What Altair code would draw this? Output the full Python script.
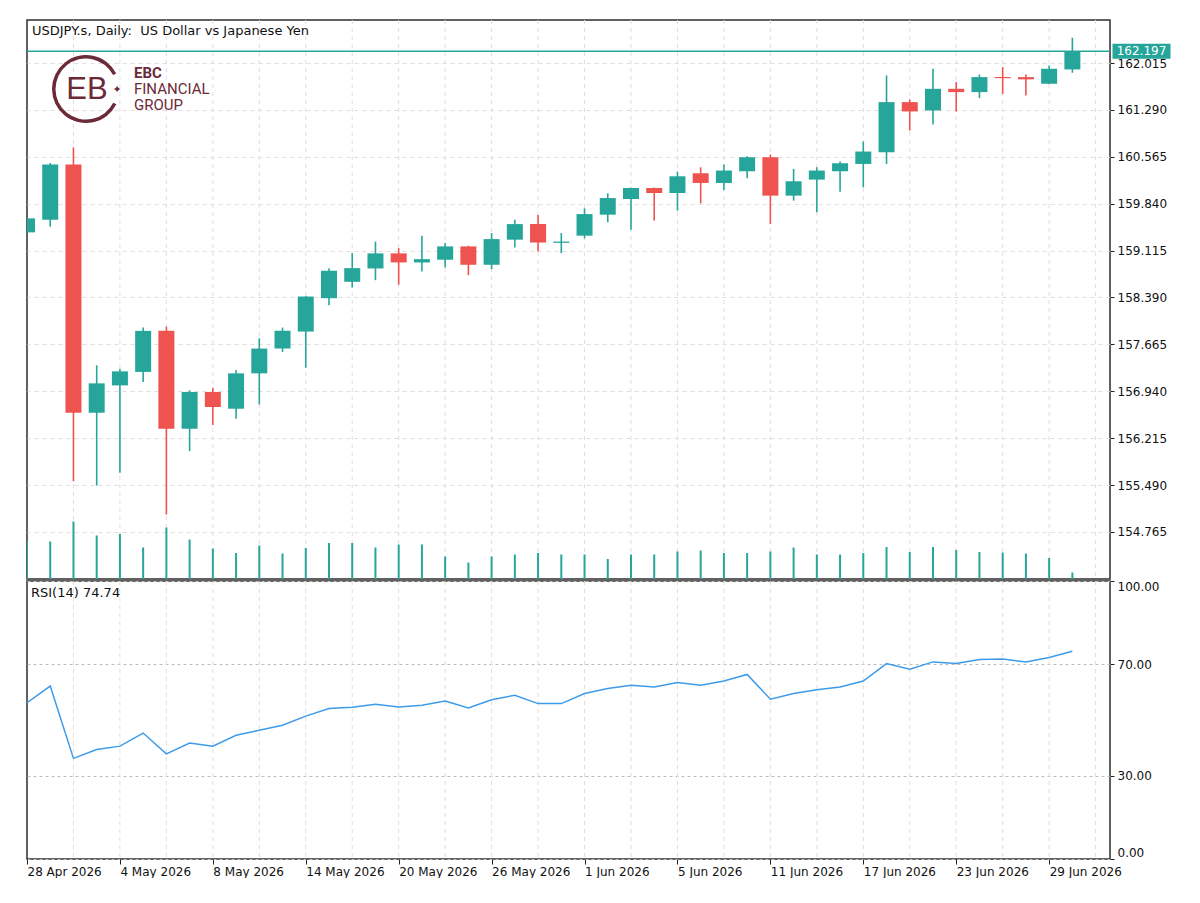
import altair as alt
import pandas as pd

# ---- daily bars, USDJPY.s -------------------------------------------------
dates = [
    "28 Apr 2026", "29 Apr 2026", "30 Apr 2026", "1 May 2026", "4 May 2026",
    "5 May 2026", "6 May 2026", "7 May 2026", "8 May 2026", "11 May 2026",
    "12 May 2026", "13 May 2026", "14 May 2026", "15 May 2026", "18 May 2026",
    "19 May 2026", "20 May 2026", "21 May 2026", "22 May 2026", "25 May 2026",
    "26 May 2026", "27 May 2026", "28 May 2026", "29 May 2026", "1 Jun 2026",
    "2 Jun 2026", "3 Jun 2026", "4 Jun 2026", "5 Jun 2026", "8 Jun 2026",
    "9 Jun 2026", "10 Jun 2026", "11 Jun 2026", "12 Jun 2026", "15 Jun 2026",
    "16 Jun 2026", "17 Jun 2026", "18 Jun 2026", "19 Jun 2026", "22 Jun 2026",
    "23 Jun 2026", "24 Jun 2026", "25 Jun 2026", "26 Jun 2026", "29 Jun 2026",
    "30 Jun 2026",
]

opens = [
    159.397, 159.594, 160.446, 156.608, 157.031, 157.239, 157.874, 156.360,
    156.929, 156.670, 157.217, 157.600, 157.863, 158.379, 158.633, 158.839,
    159.072, 158.932, 158.974, 159.180, 158.896, 159.284, 159.525, 159.235,
    159.346, 159.671, 159.913, 160.083, 160.006, 160.311, 160.161, 160.342,
    160.559, 159.965, 160.213, 160.342, 160.455, 160.636, 161.411, 161.282,
    161.617, 161.566, 161.800, 161.798, 161.694, 161.917,
]
highs = [
    159.620, 160.470, 160.714, 157.341, 157.290, 157.925, 157.941, 156.954,
    156.996, 157.270, 157.759, 157.925, 158.410, 158.844, 159.076, 159.253,
    159.154, 159.346, 159.231, 159.190, 159.386, 159.594, 159.665, 159.386,
    159.769, 160.001, 160.090, 160.090, 160.337, 160.404, 160.446, 160.574,
    160.601, 160.378, 160.404, 160.492, 160.802, 161.824, 161.453, 161.927,
    161.721, 161.840, 161.953, 161.840, 161.979, 162.407,
]
lows = [
    159.390, 159.485, 155.550, 155.482, 155.679, 157.084, 155.033, 156.015,
    156.418, 156.515, 156.737, 157.549, 157.305, 158.271, 158.545, 158.658,
    158.587, 158.793, 158.855, 158.735, 158.828, 159.165, 159.103, 159.076,
    159.304, 159.552, 159.439, 159.578, 159.733, 159.846, 160.053, 160.233,
    159.525, 159.888, 159.707, 160.027, 160.094, 160.455, 160.972, 161.065,
    161.267, 161.473, 161.539, 161.515, 161.690, 161.865,
]
closes = [
    159.614, 160.446, 156.608, 157.062, 157.248, 157.874, 156.360, 156.929,
    156.697, 157.217, 157.600, 157.874, 158.405, 158.804, 158.844, 159.072,
    158.932, 158.983, 159.180, 158.896, 159.293, 159.525, 159.242, 159.255,
    159.680, 159.928, 160.083, 160.006, 160.264, 160.161, 160.353, 160.559,
    159.965, 160.187, 160.353, 160.466, 160.647, 161.411, 161.267, 161.617,
    161.566, 161.798, 161.782, 161.763, 161.927, 162.197,
]
# tick volume, thousands
volumes = [
    76, 75, 115, 87, 90, 63, 103, 79, 61, 52, 67, 51, 62, 72, 72, 63,
    69, 69, 45, 33, 45, 49, 52, 49, 49, 40, 49, 49, 55, 57, 52, 52,
    55, 63, 49, 49, 52, 64, 54, 64, 58, 54, 53, 51, 42, 13,
]
rsi14 = [
    56.2, 62.2, 36.2, 39.4, 40.6, 45.3, 37.8, 41.7, 40.6, 44.5, 46.3, 48.1,
    51.4, 54.1, 54.6, 55.7, 54.7, 55.3, 56.8, 54.3, 57.3, 58.9, 55.9, 55.9,
    59.5, 61.3, 62.5, 61.9, 63.5, 62.5, 64.0, 66.4, 57.5, 59.5, 60.9, 61.9,
    64.0, 70.3, 68.3, 70.9, 70.3, 71.8, 71.9, 70.9, 72.5, 74.74,
]

price_ticks = [154.765, 155.490, 156.215, 156.940, 157.665, 158.390,
               159.115, 159.840, 160.565, 161.290, 162.015]
rsi_ticks = [0, 30, 70, 100]
date_tick_idx = list(range(0, 46, 4))
grid_idx = list(range(2, 47, 2))

# ---- styling ---------------------------------------------------------------
TEAL = "#26a69a"
RED = "#ef5350"
RSI_BLUE = "#3d9be9"
GRID = "#e4dcdc"
LEVEL = "#bdbdbd"
MAROON = "#6b2a38"
FONT = "DejaVu Sans"

W = 1083
H_MAIN = 559
H_RSI = 278

df = pd.DataFrame({
    "idx": list(range(len(dates))),
    "date": dates,
    "open": opens,
    "high": highs,
    "low": lows,
    "close": closes,
    "vol": volumes,
    "rsi": rsi14,
})
df["dir"] = ["up" if c >= o else "down" for o, c in zip(opens, closes)]

x_scale = alt.Scale(domain=[0, 46.62], nice=False, zero=False, padding=0)
price_scale = alt.Scale(domain=[154.037, 162.681], nice=False, zero=False)
color_scale = alt.Scale(domain=["up", "down"], range=[TEAL, RED])

grid_df = pd.DataFrame({"g": grid_idx})
one = pd.DataFrame({"k": [0]})
last_df = pd.DataFrame({"p": [closes[-1]]})

label_js = "[" + ",".join("'" + d + "'" for d in dates) + "][datum.value]"
date_axis = alt.Axis(
    values=date_tick_idx, labelExpr=label_js, title=None, grid=False,
    labelAlign="left", labelBaseline="top", tickSize=5, labelPadding=2,
    labelFlush=False, labelOverlap=False,
)


def vgrid(axis=None):
    return alt.Chart(grid_df).mark_rule(
        color=GRID, strokeDash=[4, 4], strokeWidth=1
    ).encode(x=alt.X("g:Q", scale=x_scale, axis=axis))


def label(text, x, y, size=13, weight="normal", font=FONT, color="#111111",
          align="left"):
    return alt.Chart(one).mark_text(
        text=text, font=font, fontSize=size, fontWeight=weight, color=color,
        align=align, baseline="middle",
    ).encode(x=alt.value(x), y=alt.value(y))


# ---- price panel -----------------------------------------------------------
price_axis = alt.Axis(
    orient="right", values=price_ticks, format=".3f", title=None,
    grid=True, gridColor=GRID, gridDash=[4, 4], tickSize=4, labelPadding=3,
)

wicks = alt.Chart(df).mark_rule(strokeWidth=1.6, clip=True).encode(
    x=alt.X("idx:Q", scale=x_scale, axis=None),
    y=alt.Y("low:Q", scale=price_scale, axis=price_axis),
    y2="high:Q",
    color=alt.Color("dir:N", scale=color_scale, legend=None),
)
bodies = alt.Chart(df).mark_bar(size=16, orient="vertical", clip=True).encode(
    x=alt.X("idx:Q", scale=x_scale, axis=None),
    y=alt.Y("open:Q", scale=price_scale),
    y2="close:Q",
    color=alt.Color("dir:N", scale=color_scale, legend=None),
)
price_line = alt.Chart(last_df).mark_rule(color=TEAL, strokeWidth=1.5).encode(
    y=alt.Y("p:Q", scale=price_scale)
)
price_box = alt.Chart(last_df).mark_tick(
    orient="horizontal", size=58, thickness=15, color=TEAL, opacity=1
).encode(x=alt.value(W + 31.5), y=alt.Y("p:Q", scale=price_scale))
price_txt = alt.Chart(last_df).mark_text(
    color="white", font=FONT, fontSize=12, align="center", baseline="middle"
).encode(
    x=alt.value(W + 31.5),
    y=alt.Y("p:Q", scale=price_scale),
    text=alt.Text("p:Q", format=".3f"),
)
price_layer = alt.layer(wicks, bodies, price_line, price_box, price_txt)

volume = alt.Chart(df).mark_bar(size=2, orient="vertical", color=TEAL, clip=True).encode(
    x=alt.X("idx:Q", scale=x_scale, axis=None),
    y=alt.Y("vol:Q", scale=alt.Scale(domain=[0, 1118], nice=False), axis=None),
)

title_txt = label("USDJPY.s, Daily:\u00a0 US Dollar vs Japanese Yen", 5, 11)

# EBC Financial Group mark
logo_ring = alt.Chart(one).mark_arc(
    theta=2.04, theta2=7.38, radius=34, radius2=30.5, color=MAROON
).encode(x=alt.value(59), y=alt.value(69))
logo_glyph = label("EB", 60, 70, size=31, font="Liberation Sans",
                   color=MAROON, align="center")
logo_star = label("\u2726", 90, 70, size=11, color=MAROON, align="center")
logo_ebc = label("EBC", 107, 53, size=15, weight="bold", font="Roboto", color=MAROON)
logo_fin = label("FINANCIAL", 107, 69, size=15, font="Roboto", color=MAROON)
logo_grp = label("GROUP", 107, 85, size=15, font="Roboto", color=MAROON)

top = alt.layer(
    vgrid(), volume, price_layer, title_txt,
    logo_ring, logo_glyph, logo_star, logo_ebc, logo_fin, logo_grp,
).resolve_scale(y="independent").properties(width=W, height=H_MAIN)

# ---- RSI panel -------------------------------------------------------------
rsi_line = alt.Chart(df).mark_line(color=RSI_BLUE, strokeWidth=1.5).encode(
    x=alt.X("idx:Q", scale=x_scale, axis=date_axis),
    y=alt.Y(
        "rsi:Q", scale=alt.Scale(domain=[0, 100], nice=False),
        axis=alt.Axis(
            orient="right", values=rsi_ticks, format=".2f", title=None,
            grid=True, gridColor=LEVEL, gridDash=[3, 3], tickSize=4,
            labelPadding=3, labelFlush=True,
        ),
    ),
)
rsi_txt = label("RSI(14) 74.74", 4, 12)

bottom = alt.layer(vgrid(date_axis), rsi_line, rsi_txt).properties(
    width=W, height=H_RSI
)

chart = alt.vconcat(top, bottom, spacing=2, bounds="flush").properties(
    padding={"left": 23, "top": 18, "right": 0, "bottom": 0},
    background="white",
).configure_view(
    stroke="#2e2e2e", strokeWidth=1.5
).configure_axis(
    domain=False, labelFont=FONT, labelFontSize=12, labelColor="#111111",
    tickColor="#222222",
)

chart.save("out.html", embed_options={"renderer": "svg", "actions": False})
